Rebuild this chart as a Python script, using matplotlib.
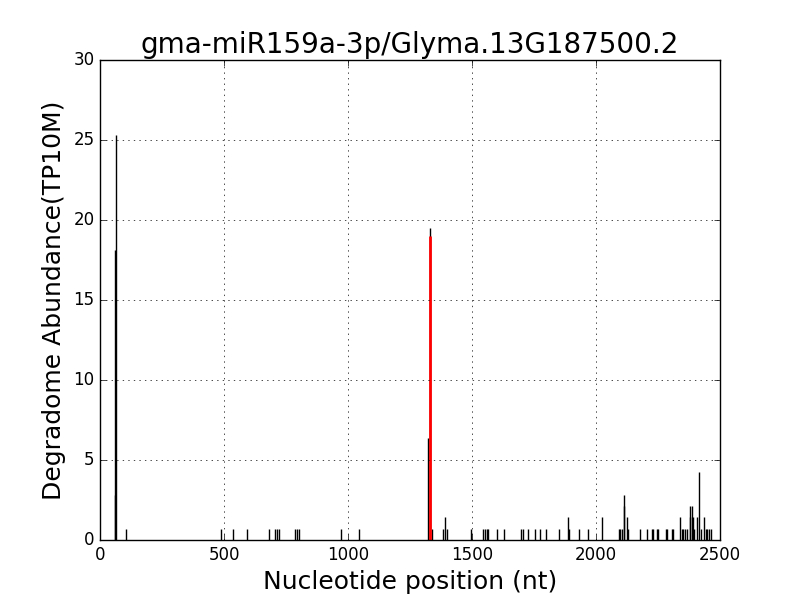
import matplotlib
matplotlib.use('Agg')
import matplotlib.pyplot as plt

plt.style.use('classic')

title = 'gma-miR159a-3p/Glyma.13G187500.2'

# degradome reads: position (nt) and abundance (TP10M)
positions = [60, 62, 65, 105,
             486, 537, 594, 682, 707, 715, 723, 787, 795, 803, 973, 1045,
             1322, 1331, 1337, 1384, 1392, 1400,
             1494, 1545, 1553, 1561, 1566, 1599, 1628, 1698, 1706, 1727, 1754, 1776, 1797,
             1851, 1886, 1891, 1932, 1967, 2025,
             2093, 2098, 2104, 2111, 2114, 2125, 2131, 2177, 2207, 2225, 2231, 2244, 2252,
             2281, 2287, 2305, 2310, 2338, 2346, 2351, 2359, 2365, 2378, 2381, 2386, 2391,
             2395, 2406, 2416, 2424, 2435, 2443, 2449, 2457, 2462]
abundance = [2.84, 18.1, 25.3, 0.71,
             0.71, 0.71, 0.71, 0.71, 0.71, 0.71, 0.71, 0.71, 0.71, 0.71, 0.71, 0.71,
             6.4, 19.5, 0.71, 0.71, 1.42, 0.71,
             0.71, 0.71, 0.71, 0.71, 0.71, 0.71, 0.71, 0.71, 0.71, 0.71, 0.71, 0.71, 0.71,
             0.71, 1.42, 0.71, 0.71, 0.71, 1.42,
             0.71, 0.71, 0.71, 2.13, 2.84, 1.42, 0.71, 0.71, 0.71, 0.71, 0.71, 0.71, 0.71,
             0.71, 0.71, 0.71, 0.71, 1.42, 0.71, 0.71, 0.71, 0.71, 1.42, 2.13, 2.13, 1.42,
             0.71, 1.42, 4.26, 0.71, 1.42, 0.71, 0.71, 0.71, 0.71]

# miRNA cleavage site
site_pos = 1330
site_abundance = 19.0

fig = plt.figure(figsize=(8, 6), dpi=100)
ax = fig.add_subplot(111)

ax.vlines(positions, 0, abundance, colors='black', linewidth=1)
ax.vlines([site_pos], 0, [site_abundance], colors='red', linewidth=2)

ax.set_xlim(0, 2500)
ax.set_ylim(0, 30)
ax.grid(True)
ax.set_title(title, fontsize=20)
ax.set_xlabel('Nucleotide position (nt)', fontsize=18)
ax.set_ylabel('Degradome Abundance(TP10M)', fontsize=18)

fig.savefig('out.png', dpi=100, facecolor='white')
